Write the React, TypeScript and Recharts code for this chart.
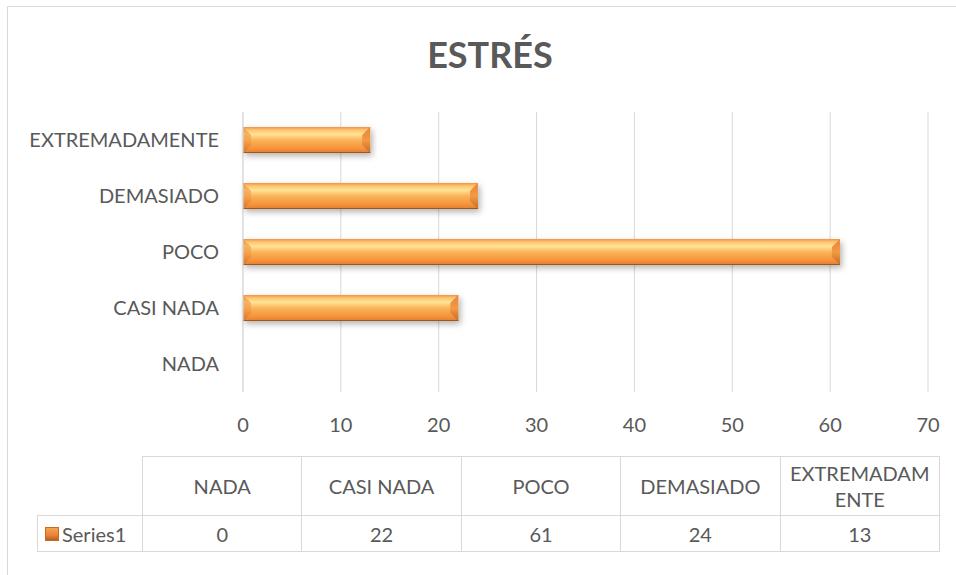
import { BarChart, Bar, XAxis, YAxis, CartesianGrid } from 'recharts';

const categories = ['NADA', 'CASI NADA', 'POCO', 'DEMASIADO', 'EXTREMADAMENTE'];
const series1 = [0, 22, 61, 24, 13];
const xTicks = [0, 10, 20, 30, 40, 50, 60, 70];
const seriesName = 'Series1';
const title = 'ESTRÉS';

const FONT = 'Lato, "Open Sans", sans-serif';
const TEXT = '#595959';
const LINE = '#D9D9D9';

const chartData = categories.map((name, i) => ({ name, value: series1[i] }));

// excel-ish bevelled orange bar
function BevelBar(props: any) {
  const { x, y, width, height } = props;
  if (!width || width <= 0) return null;
  const b = Math.min(8, width / 2, height / 2);
  return (
    <g filter="url(#barShadow)">
      <rect x={x} y={y} width={width} height={height} fill="url(#barFill)" />
      <polygon
        points={`${x},${y} ${x + b},${y + b} ${x + b},${y + height - b} ${x},${y + height}`}
        fill="url(#barSide)"
        opacity={0.6}
      />
      <polygon
        points={`${x + width},${y} ${x + width - b},${y + b} ${x + width - b},${y + height - b} ${x + width},${y + height}`}
        fill="url(#barSide)"
      />
      <line x1={x} x2={x + width} y1={y + height - 0.5} y2={y + height - 0.5} stroke="#A3561C" strokeWidth={1} />
    </g>
  );
}

export default function App() {
  const colW = 160.4;
  return (
    <div style={{ position: 'absolute', left: 0, top: 0, width: 956, height: 575, background: '#fff', overflow: 'hidden', fontFamily: FONT }}>
      <div style={{ position: 'absolute', left: 7, top: 6, width: 980, height: 600, border: `1px solid ${LINE}` }} />
      <div style={{ position: 'absolute', left: 0, top: 32, width: 980, textAlign: 'center', fontSize: 36, fontWeight: 700, color: TEXT }}>
        {title}
      </div>
      <div style={{ position: 'absolute', left: 0, top: 0 }}>
        <BarChart
          width={956}
          height={575}
          data={chartData}
          layout="vertical"
          margin={{ top: 112, right: 28, bottom: 153, left: 0 }}
        >
          <defs>
            <linearGradient id="barFill" x1="0" y1="0" x2="0" y2="1">
              <stop offset="0%" stopColor="#F2913F" />
              <stop offset="10%" stopColor="#FCC06A" />
              <stop offset="28%" stopColor="#FFE497" />
              <stop offset="50%" stopColor="#FBB359" />
              <stop offset="78%" stopColor="#F7973E" />
              <stop offset="94%" stopColor="#EA8534" />
              <stop offset="100%" stopColor="#B4601F" />
            </linearGradient>
            <linearGradient id="barSide" x1="0" y1="0" x2="0" y2="1">
              <stop offset="0%" stopColor="#E8823A" />
              <stop offset="50%" stopColor="#F39A45" />
              <stop offset="100%" stopColor="#C46A25" />
            </linearGradient>
            <filter id="barShadow" x="-5%" y="-30%" width="110%" height="180%">
              <feDropShadow dx="2" dy="3" stdDeviation="3" floodColor="#000" floodOpacity="0.3" />
            </filter>
          </defs>
          <CartesianGrid horizontal={false} stroke={LINE} strokeWidth={1} />
          <XAxis
            type="number"
            domain={[0, 70]}
            ticks={xTicks}
            axisLine={false}
            tickLine={false}
            tickMargin={20}
            tick={{ fontSize: 20, fill: TEXT, fontFamily: FONT }}
          />
          <YAxis
            type="category"
            dataKey="name"
            reversed
            width={243}
            axisLine={{ stroke: LINE }}
            tickLine={false}
            tickMargin={18}
            tick={{ fontSize: 20, fill: TEXT, fontFamily: FONT }}
          />
          <Bar dataKey="value" barSize={26} shape={<BevelBar />} isAnimationActive={false} />
        </BarChart>
      </div>

      {/* data table */}
      <div style={{ position: 'absolute', left: 142, top: 456, display: 'flex' }}>
        {categories.map((c, i) => (
          <div
            key={c}
            style={{
              width: colW,
              height: 60,
              boxSizing: 'border-box',
              border: `1px solid ${LINE}`,
              marginLeft: i === 0 ? 0 : -1,
              display: 'flex',
              alignItems: 'center',
              justifyContent: 'center',
              textAlign: 'center',
              fontSize: 20,
              lineHeight: '26px',
              color: TEXT,
              padding: '0 8px',
              wordBreak: 'break-all',
            }}
          >
            {c}
          </div>
        ))}
      </div>
      <div style={{ position: 'absolute', left: 37, top: 515, display: 'flex' }}>
        <div
          style={{
            width: 106,
            height: 37,
            boxSizing: 'border-box',
            border: `1px solid ${LINE}`,
            display: 'flex',
            alignItems: 'center',
            fontSize: 20,
            color: TEXT,
            paddingLeft: 7,
          }}
        >
          <span
            style={{
              display: 'inline-block',
              width: 12,
              height: 12,
              marginRight: 3,
              background: 'linear-gradient(#F7A24C, #E8843A 60%, #B4601F)',
              border: '1px solid #C46A25',
            }}
          />
          {seriesName}
        </div>
        {series1.map((v, i) => (
          <div
            key={i}
            style={{
              width: colW,
              height: 37,
              boxSizing: 'border-box',
              border: `1px solid ${LINE}`,
              marginLeft: -1,
              display: 'flex',
              alignItems: 'center',
              justifyContent: 'center',
              fontSize: 20,
              color: TEXT,
            }}
          >
            {v}
          </div>
        ))}
      </div>
    </div>
  );
}
